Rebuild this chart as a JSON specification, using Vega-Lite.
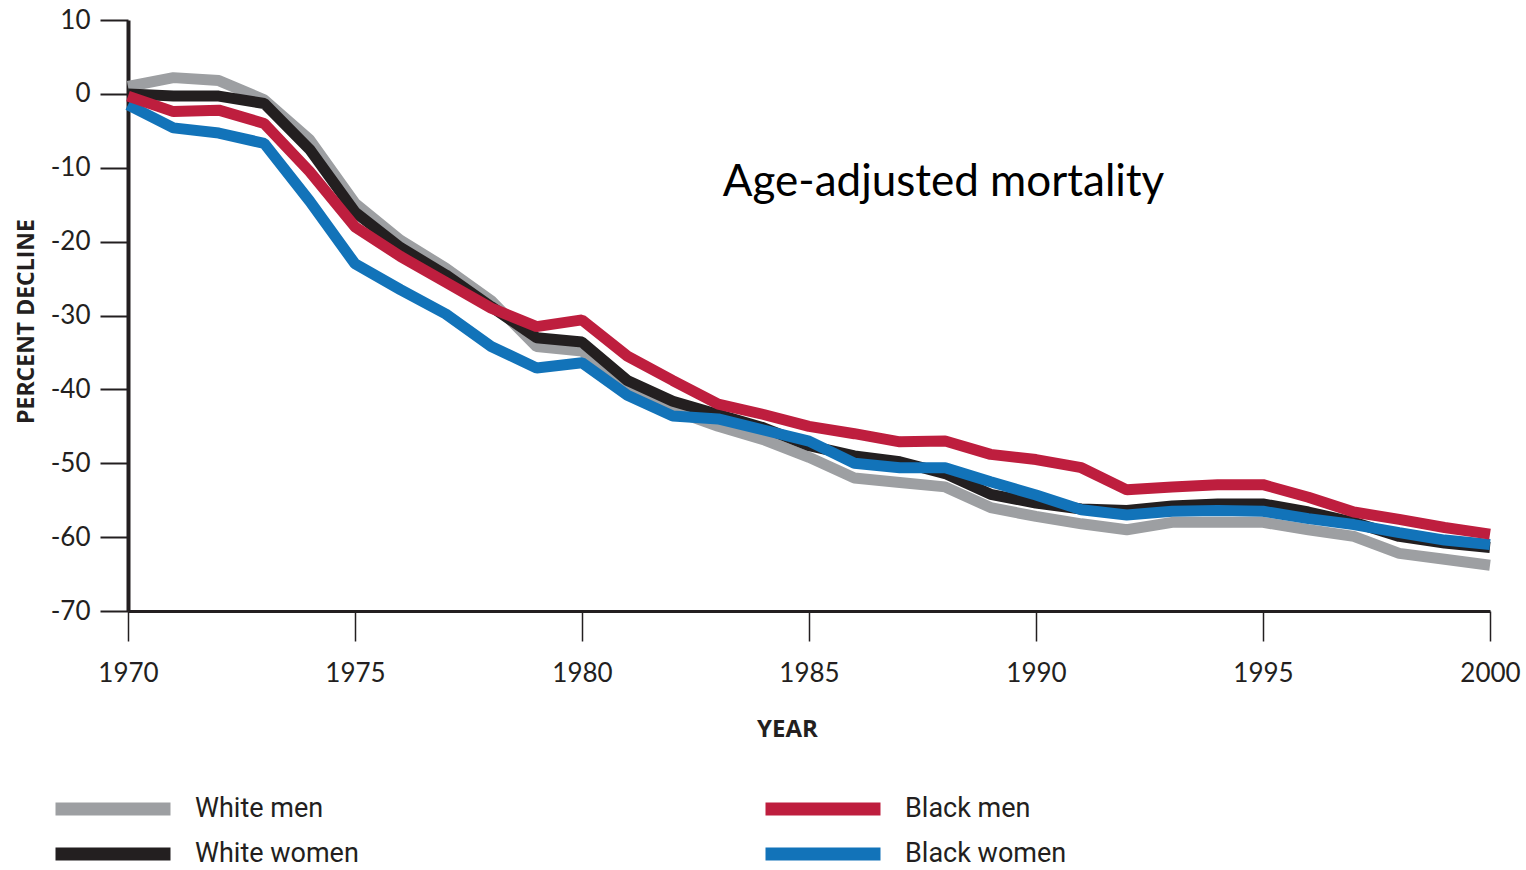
{
  "$schema": "https://vega.github.io/schema/vega-lite/v6.json",
  "width": 1362,
  "height": 591,
  "autosize": {"type": "none"},
  "padding": {"left": 128, "top": 20, "right": 36, "bottom": 259},
  "background": "white",
  "config": {"view": {"stroke": null}},
  "datasets": {
    "mortality": [
      {"year": 1970, "White men": 1.0, "White women": 0.0, "Black women": -1.5, "Black men": -0.3},
      {"year": 1971, "White men": 2.2, "White women": -0.3, "Black women": -4.6, "Black men": -2.4},
      {"year": 1972, "White men": 1.8, "White women": -0.3, "Black women": -5.3, "Black men": -2.2},
      {"year": 1973, "White men": -0.8, "White women": -1.3, "Black women": -6.7, "Black men": -4.0},
      {"year": 1974, "White men": -6.2, "White women": -7.5, "Black women": -14.5, "Black men": -10.5},
      {"year": 1975, "White men": -14.8, "White women": -16.0, "Black women": -23.0, "Black men": -18.0},
      {"year": 1976, "White men": -19.8, "White women": -20.8, "Black women": -26.5, "Black men": -22.0},
      {"year": 1977, "White men": -23.6, "White women": -24.5, "Black women": -29.8, "Black men": -25.5},
      {"year": 1978, "White men": -28.0, "White women": -28.8, "Black women": -34.2, "Black men": -29.0},
      {"year": 1979, "White men": -34.2, "White women": -33.0, "Black women": -37.1, "Black men": -31.5},
      {"year": 1980, "White men": -34.8, "White women": -33.6, "Black women": -36.4, "Black men": -30.6},
      {"year": 1981, "White men": -39.8, "White women": -38.8, "Black women": -40.8, "Black men": -35.5},
      {"year": 1982, "White men": -42.8, "White women": -41.6, "Black women": -43.6, "Black men": -38.8},
      {"year": 1983, "White men": -45.0, "White women": -43.4, "Black women": -44.0, "Black men": -42.0},
      {"year": 1984, "White men": -46.8, "White women": -45.2, "Black women": -45.5, "Black men": -43.4},
      {"year": 1985, "White men": -49.2, "White women": -47.6, "Black women": -47.0, "Black men": -45.0},
      {"year": 1986, "White men": -52.0, "White women": -49.0, "Black women": -50.0, "Black men": -46.0},
      {"year": 1987, "White men": -52.6, "White women": -49.8, "Black women": -50.6, "Black men": -47.1},
      {"year": 1988, "White men": -53.2, "White women": -51.4, "Black women": -50.6, "Black men": -47.0},
      {"year": 1989, "White men": -56.0, "White women": -54.2, "Black women": -52.5, "Black men": -48.8},
      {"year": 1990, "White men": -57.2, "White women": -55.4, "Black women": -54.3, "Black men": -49.5},
      {"year": 1991, "White men": -58.2, "White women": -56.2, "Black women": -56.3, "Black men": -50.6},
      {"year": 1992, "White men": -59.0, "White women": -56.4, "Black women": -57.0, "Black men": -53.6},
      {"year": 1993, "White men": -58.0, "White women": -55.8, "Black women": -56.5, "Black men": -53.2},
      {"year": 1994, "White men": -58.0, "White women": -55.5, "Black women": -56.4, "Black men": -52.9},
      {"year": 1995, "White men": -58.0, "White women": -55.5, "Black women": -56.5, "Black men": -52.9},
      {"year": 1996, "White men": -59.0, "White women": -56.6, "Black women": -57.5, "Black men": -54.6},
      {"year": 1997, "White men": -59.9, "White women": -58.0, "Black women": -58.3, "Black men": -56.6},
      {"year": 1998, "White men": -62.2, "White women": -59.9, "Black women": -59.4, "Black men": -57.6},
      {"year": 1999, "White men": -63.0, "White women": -60.8, "Black women": -60.4, "Black men": -58.7},
      {"year": 2000, "White men": -63.8, "White women": -61.4, "Black women": -61.0, "Black men": -59.6}
    ],
    "note": [
      {"year": 1983.1, "decline": -12, "label": "Age-adjusted mortality"}
    ]
  },
  "layer": [
    {
      "data": {"name": "mortality"},
      "transform": [
        {"fold": ["White men", "White women", "Black women", "Black men"], "as": ["group", "decline"]}
      ],
      "mark": {"type": "line", "strokeWidth": 11, "strokeJoin": "bevel"},
      "encoding": {
        "x": {
          "field": "year", "type": "quantitative",
          "scale": {"domain": [1970, 2000], "nice": false, "zero": false},
          "axis": {
            "values": [1970, 1975, 1980, 1985, 1990, 1995, 2000],
            "format": "d", "grid": false,
            "domainColor": "#231f20", "domainWidth": 3,
            "tickColor": "#231f20", "tickSize": 30, "tickWidth": 1.5,
            "labelFont": "Lato", "labelFontSize": 26, "labelColor": "#231f20",
            "labelPadding": 19, "labelFlush": false,
            "title": "YEAR", "titleFont": "Open Sans", "titleFontSize": 24, "titleFontWeight": "bold",
            "titleColor": "#231f20", "titlePadding": 31, "titleX": 659
          }
        },
        "y": {
          "field": "decline", "type": "quantitative",
          "scale": {"domain": [-70, 10], "nice": false, "zero": false},
          "axis": {
            "values": [-70, -60, -50, -40, -30, -20, -10, 0, 10],
            "labelExpr": "datum.value < 0 ? '-' + abs(datum.value) : '' + datum.value",
            "grid": false,
            "domainColor": "#231f20", "domainWidth": 4,
            "tickColor": "#231f20", "tickSize": 28, "tickWidth": 2,
            "labelFont": "Lato", "labelFontSize": 26, "labelColor": "#231f20",
            "labelPadding": 10, "labelFlush": false,
            "title": "PERCENT DECLINE", "titleFont": "Open Sans", "titleFontSize": 23, "titleFontWeight": "bold",
            "titleColor": "#231f20", "titlePadding": 12, "titleY": 301
          }
        },
        "color": {
          "field": "group", "type": "nominal",
          "scale": {
            "domain": ["White men", "Black men", "White women", "Black women"],
            "range": ["#9d9fa2", "#be1e3e", "#231f20", "#1273b9"]
          },
          "legend": {
            "title": null, "orient": "none", "legendX": -33, "legendY": 771,
            "columns": 2, "direction": "horizontal", "padding": 0,
            "symbolType": "M-5,0H5", "symbolStrokeWidth": 13, "symbolSize": 529,
            "labelFont": "Roboto", "labelFontSize": 27, "labelColor": "#231f20", "labelLimit": 400,
            "labelOffset": 64, "rowPadding": -7, "columnPadding": 380
          }
        }
      }
    },
    {
      "data": {"name": "note"},
      "mark": {"type": "text", "align": "left", "baseline": "middle", "font": "Lato", "fontSize": 44, "color": "#000000"},
      "encoding": {
        "x": {"field": "year", "type": "quantitative"},
        "y": {"field": "decline", "type": "quantitative"},
        "text": {"field": "label", "type": "nominal"}
      }
    }
  ]
}
